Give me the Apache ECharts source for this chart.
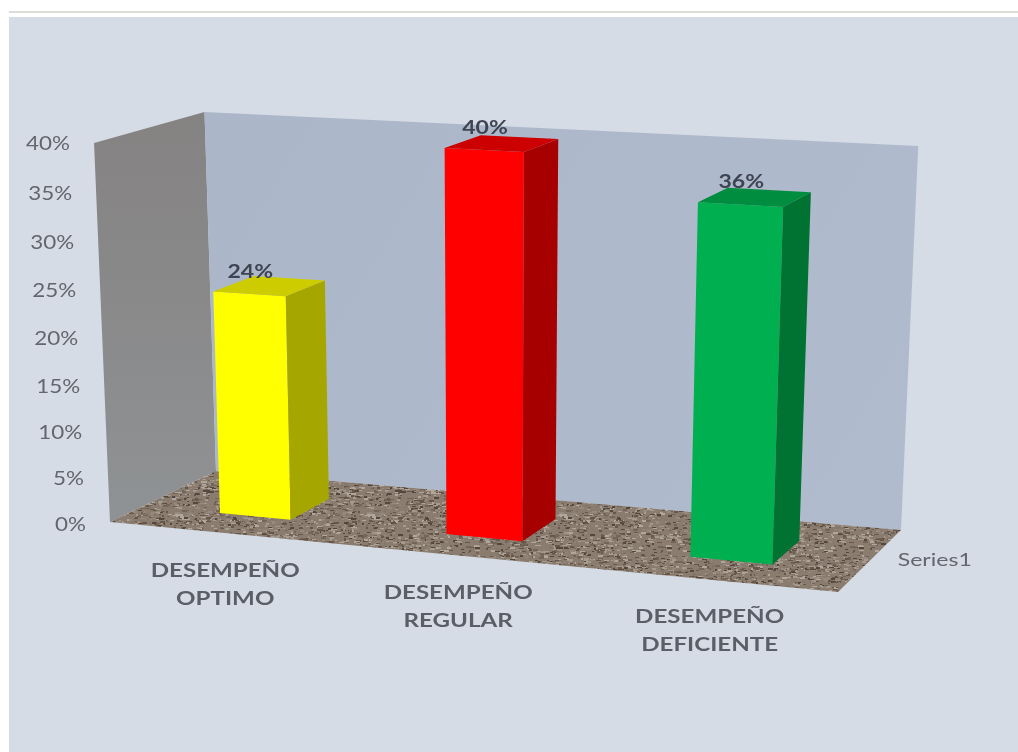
<!DOCTYPE html>
<html><head><meta charset="utf-8">
<style>html,body{margin:0;padding:0;background:#fff}#c{width:1018px;height:752px;filter:blur(0.5px)}</style>
<script src="https://cdn.jsdelivr.net/npm/echarts@6/dist/echarts.min.js"></script>
</head><body><div id="c"></div>
<script>
// ---- data ----
const categories = ['DESEMPEÑO\nOPTIMO', 'DESEMPEÑO\nREGULAR', 'DESEMPEÑO\nDEFICIENTE'];
const values = [24, 40, 36];
const yTicks = [0, 5, 10, 15, 20, 25, 30, 35, 40];
const depthLabels = ['Series1'];
const yMax = 40;
// ---- styling ----
const frontColors = ['#FFFF00', '#FF0000', '#00B050'];
const topColors   = ['#CCCC00', '#CC0000', '#008D40'];
const sideColors  = ['#A6A600', '#A60000', '#007232'];
// ---- view of the 3D box: floor corners, wall heights at those corners, vertical vanishing column ----
const floorQuad = [[110,522],[838,592],[901,530],[216,471]];
const cornerHeights = [379,410,384,359];
const vanishX = 490, vanishSlope = 0.042, heightBow = 0.05;
const depthFront = 0.30, depthBack = 0.69, barFrac = 0.32, barShift = 0.005;

function homography(q){
  const [p0,p1,p2,p3]=q;
  const dx1=p1[0]-p2[0],dx2=p3[0]-p2[0],sx=p0[0]-p1[0]+p2[0]-p3[0];
  const dy1=p1[1]-p2[1],dy2=p3[1]-p2[1],sy=p0[1]-p1[1]+p2[1]-p3[1];
  const d=dx1*dy2-dx2*dy1;
  const g=(sx*dy2-dx2*sy)/d,h=(dx1*sy-sx*dy1)/d;
  const a=p1[0]-p0[0]+g*p1[0],b=p3[0]-p0[0]+h*p3[0],c=p0[0];
  const e=p1[1]-p0[1]+g*p1[1],f=p3[1]-p0[1]+h*p3[1],k=p0[1];
  return (u,w)=>{const z=g*u+h*w+1;return [(a*u+b*w+c)/z,(e*u+f*w+k)/z];};
}
const hFloor=homography(floorQuad);
function project(u,w,v){
  const B=hFloor(u,w);
  const [a,b,c,d]=cornerHeights;
  const ht=(a*(1-u)+b*u)*(1-w)+(d*(1-u)+c*u)*w;
  const t=v/(1+heightBow*(1-v));
  return [B[0]+(B[0]-vanishX)*vanishSlope*t,B[1]-ht*t];
}
// deterministic mottled granite texture for the floor
function granite(){
  const s=192,cv=document.createElement('canvas');cv.width=cv.height=s;
  const x=cv.getContext('2d');let st=12345;
  const r=()=>{st=(st*1103515245+12345)&0x7fffffff;return st/0x7fffffff;};
  x.fillStyle='#8A7C6F';x.fillRect(0,0,s,s);
  x.filter='blur(0.5px)';
  const pal=['#665749','#74655A','#85776A','#968A7E','#A49A8E','#B0A69B','#8A7C70','#54483E'];
  for(let i=0;i<5200;i++){
    x.fillStyle=pal[Math.floor(r()*pal.length)];
    const px=Math.floor(r()*s),py=Math.floor(r()*s);
    x.fillRect(px,py,2+Math.floor(r()*4),1+Math.floor(r()*2));
  }
  return cv;
}
const floorTex=granite();

function poly(points,fill){return {type:'polygon',shape:{points},style:{fill}};}

const chart=echarts.init(document.getElementById('c'),null,{renderer:'canvas'});
chart.setOption({
  animation:false,
  backgroundColor:'#ffffff',
  graphic:[
    {type:'rect',z:-2,shape:{x:9,y:17,width:1009,height:735},style:{fill:'#D6DCE5'}},
    {type:'rect',z:-2,shape:{x:9,y:11,width:1009,height:2},style:{fill:'#DEDED8'}}
  ],
  grid:{left:0,right:0,top:0,bottom:0},
  xAxis:{type:'category',data:categories,show:false},
  yAxis:{type:'value',min:0,max:yMax,interval:5,show:false},
  series:[
    { // box: floor, left wall, back wall
      type:'custom',silent:true,clip:false,z:1,data:[[0,0]],
      renderItem(){
        return {type:'group',children:[
          poly([project(0,0,0),project(0,1,0),project(0,1,1),project(0,0,1)],
            {type:'linear',x:0,y:0,x2:0,y2:1,colorStops:[{offset:0,color:'#858282'},{offset:1,color:'#8F9294'}]}),
          poly([project(0,1,0),project(1,1,0),project(1,1,1),project(0,1,1)],
            {type:'linear',x:0,y:0,x2:1,y2:1,colorStops:[{offset:0,color:'#ABB7C9'},{offset:1,color:'#B0BCCE'}]}),
          poly([project(0,0,0),project(1,0,0),project(1,1,0),project(0,1,0)],
            {image:floorTex,repeat:'repeat'})
        ]};
      }
    },
    { // bars
      type:'custom',silent:true,clip:false,z:2,
      data:values.map((v,i)=>[i,v]),encode:{x:0,y:1},
      renderItem(params,api){
        const i=api.value(0),W=api.getWidth(),H=api.getHeight();
        const c=api.coord([i,api.value(1)]);
        const um=c[0]/W+barShift,v=(H-c[1])/H,hw=api.size([1,0])[0]/W*barFrac/2;
        const u0=um-hw,u1=um+hw,w0=depthFront,w1=depthBack;
        const P=(u,w,t)=>project(u,w,t);
        const m=P(um,w0,v);
        return {type:'group',children:[
          poly([P(u0,w0,0),P(u1,w0,0),P(u1,w0,v),P(u0,w0,v)],frontColors[i]),
          poly([P(u1,w0,0),P(u1,w1,0),P(u1,w1,v),P(u1,w0,v)],sideColors[i]),
          poly([P(u0,w0,v),P(u1,w0,v),P(u1,w1,v),P(u0,w1,v)],topColors[i]),
          {type:'text',x:m[0]+1,y:m[1]-22,scaleX:1.28,
            style:{text:values[i]+'%',fill:'#3F4452',font:'bold 18px Lato',align:'center',verticalAlign:'middle'}}
        ]};
      }
    },
    { // value tick labels, they follow the slanted front wall edge
      type:'custom',silent:true,clip:false,z:3,
      data:yTicks.map(t=>[0,t]),encode:{x:0,y:1},
      renderItem(params,api){
        const H=api.getHeight(),t=api.value(1),c=api.coord([0,t]);
        const v=(H-c[1])/H;
        const p=project(0,0,v);
        return {type:'text',x:p[0]-24,y:p[1]+1+2*(1-v),scaleX:1.18,
          style:{text:t+'%',fill:'#62666E',font:'19px Lato',align:'right',verticalAlign:'middle'}};
      }
    },
    { // category labels under the front floor edge
      type:'custom',silent:true,clip:false,z:3,
      data:categories.map((n,i)=>[i,0]),encode:{x:0,y:1},
      renderItem(params,api){
        const i=api.value(0),W=api.getWidth(),c=api.coord([i,0]);
        const p=project(c[0]/W,0,0);
        return {type:'text',x:p[0]+5,y:p[1]+52,scaleX:1.27,
          style:{text:categories[i],fill:'#5A5E67',font:'bold 19px Lato',lineHeight:28,align:'center',verticalAlign:'middle'}};
      }
    },
    { // depth axis label
      type:'custom',silent:true,clip:false,z:3,
      data:depthLabels.map(()=>[0,0]),encode:{x:0,y:1},
      renderItem(params,api){
        const p=project(1,0.5,0);
        return {type:'text',x:p[0]+27,y:p[1],scaleX:1.28,
          style:{text:depthLabels[params.dataIndex],fill:'#62666E',font:'18px Lato',align:'left',verticalAlign:'middle'}};
      }
    }
  ]
});
</script></body></html>
